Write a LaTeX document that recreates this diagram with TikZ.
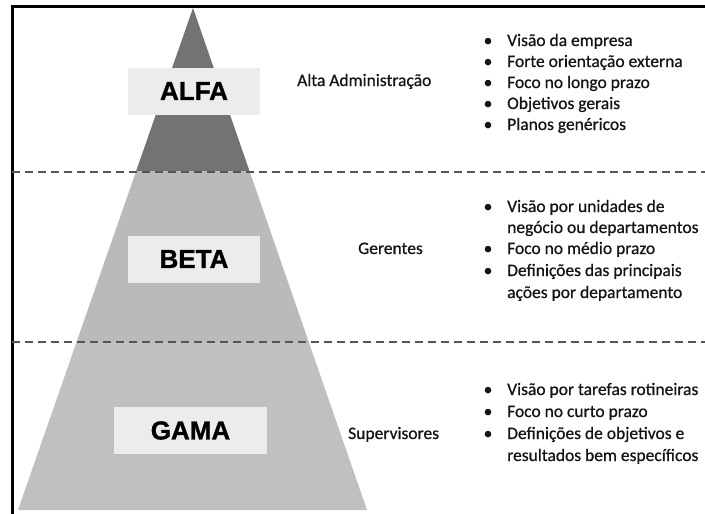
\documentclass[tikz,border=0pt]{standalone}
\usepackage{fontspec}
\setmainfont{Carlito}
\newfontfamily\labelfont{Liberation Sans}[FakeBold=1.2]
\newfontfamily\bodyfont{Carlito}[FakeBold=0.7]
\definecolor{topgray}{RGB}{115,115,115}
\definecolor{midgray}{RGB}{186,186,186}
\definecolor{lowgray}{RGB}{192,192,192}
\definecolor{boxgray}{RGB}{236,236,236}
\definecolor{sepgray}{RGB}{85,85,85}
\definecolor{txtcol}{RGB}{20,20,20}
\tikzset{
  tier/.style={fill=boxgray, minimum height=47pt, inner sep=0pt,
    font=\labelfont\bfseries\fontsize{26}{30}\selectfont},
  lvl/.style={inner sep=0pt, anchor=west, text height=12pt, text depth=4pt,
    text=txtcol, font=\bodyfont\fontsize{17.5}{21}\selectfont},
  item/.style={lvl},
  dot/.style={inner sep=0pt, text height=12pt, text depth=4pt,
    text=txtcol, font=\bodyfont\fontsize{17.5}{21}\selectfont},
  sepline/.style={draw=sepgray, line width=2pt, dash pattern=on 8pt off 5pt}
}
\begin{document}
\begin{tikzpicture}[x=1pt,y=-1pt]
\useasboundingbox (0,0) rectangle (705,514);
% pyramid
\begin{scope}
\clip (193,8) -- (367,510) -- (18,510) -- cycle;
\fill[topgray] (0,0) rectangle (705,171);
\fill[midgray] (0,171) rectangle (705,342);
\fill[lowgray] (0,342) rectangle (705,514);
\end{scope}
% frame
\draw[line width=3pt] (12,514) -- (12,6) -- (705,6);
% separators
\coordinate (s1a) at (12,172);
\coordinate (s1b) at (705,172);
\coordinate (s2a) at (12,342);
\coordinate (s2b) at (705,342);
\draw[sepline] (s1a) -- (s1b);
\draw[sepline] (s2a) -- (s2b);
% tier labels
\node[tier, minimum width=132pt] (alfa) at (194,91) {ALFA};
\node[tier, minimum width=132pt] (beta) at (194,259) {BETA};
\node[tier, minimum width=153pt] (gama) at (190.5,430.5) {GAMA};
% level names
\node[lvl] (alta) at (297,82) {Alta Administração};
\node[lvl] (ger) at (358,250) {Gerentes};
\node[lvl] (sup) at (348,435) {Supervisores};
% bullets top
\node[dot] (b11) at (488,42) {•};
\node[item] (t11) at (507,42) {Visão da empresa};
\node[dot] (b12) at (488,63) {•};
\node[item] (t12) at (507,63) {Forte orientação externa};
\node[dot] (b13) at (488,84) {•};
\node[item] (t13) at (507,84) {Foco no longo prazo};
\node[dot] (b14) at (488,105) {•};
\node[item] (t14) at (507,105) {Objetivos gerais};
\node[dot] (b15) at (488,126) {•};
\node[item] (t15) at (507,126) {Planos genéricos};
% bullets middle
\node[dot] (b21) at (488,208) {•};
\node[item] (t21) at (507,208) {Visão por unidades de};
\node[item] (t21b) at (507,229) {negócio ou departamentos};
\node[dot] (b22) at (488,250) {•};
\node[item] (t22) at (507,250) {Foco no médio prazo};
\node[dot] (b23) at (488,272) {•};
\node[item] (t23) at (507,272) {Definições das principais};
\node[item] (t23b) at (507,294) {ações por departamento};
% bullets bottom
\node[dot] (b31) at (488,391) {•};
\node[item] (t31) at (507,391) {Visão por tarefas rotineiras};
\node[dot] (b32) at (488,413) {•};
\node[item] (t32) at (507,413) {Foco no curto prazo};
\node[dot] (b33) at (488,435) {•};
\node[item] (t33) at (507,435) {Definições de objetivos e};
\node[item] (t33b) at (507,457) {resultados bem específicos};
\end{tikzpicture}
\end{document}
